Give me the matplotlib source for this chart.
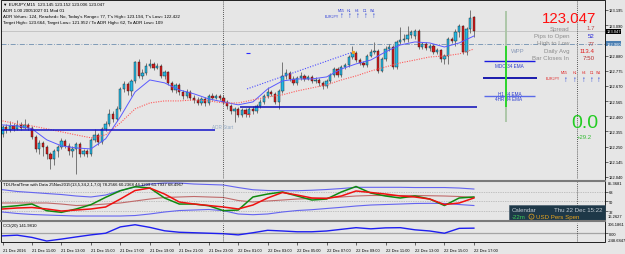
import matplotlib
matplotlib.use("Agg")
import matplotlib.pyplot as plt
import matplotlib.transforms as mtransforms
from matplotlib.lines import Line2D
from matplotlib.patches import Rectangle

plt.rcParams['font.family'] = ['Liberation Sans', 'DejaVu Sans']

# ---------------------------------------
# Data: EURJPY M15 candles (21 Dec 09:00 .. 22 Dec 17:00)
# ---------------------------------------

opens = [122.338, 122.387, 122.366, 122.393, 122.373, 122.400, 122.380, 122.400, 122.380, 122.317,
         122.234, 122.276, 122.248, 122.200, 122.165, 122.221, 122.248, 122.290, 122.255, 122.221,
         122.234, 122.269, 122.200, 122.221, 122.200, 122.297, 122.331, 122.283, 122.373, 122.407,
         122.476, 122.442, 122.511, 122.649, 122.684, 122.635, 122.704, 122.836, 122.739, 122.760,
         122.808, 122.822, 122.794, 122.808, 122.739, 122.767, 122.691, 122.642, 122.677, 122.628,
         122.601, 122.628, 122.587, 122.573, 122.552, 122.580, 122.552, 122.601, 122.587, 122.601,
         122.587, 122.559, 122.532, 122.497, 122.511, 122.469, 122.504, 122.476, 122.511, 122.497,
         122.532, 122.559, 122.601, 122.628, 122.615, 122.559, 122.635, 122.739, 122.760, 122.718,
         122.691, 122.725, 122.739, 122.718, 122.732, 122.704, 122.711, 122.691, 122.670, 122.704,
         122.746, 122.787, 122.746, 122.801, 122.815, 122.870, 122.898, 122.849, 122.829, 122.815,
         122.877, 122.905, 122.912, 122.773, 122.856, 122.925, 122.939, 122.801, 122.974, 122.988,
         122.995, 123.022, 123.015, 123.050, 122.939, 122.960, 122.932, 122.946, 122.905, 122.919,
         122.856, 122.877, 122.995, 122.981, 123.043, 123.084, 122.905, 123.064, 123.145]
highs = [122.400, 122.407, 122.428, 122.414, 122.435, 122.421, 122.442, 122.414, 122.393, 122.331,
         122.297, 122.290, 122.262, 122.214, 122.234, 122.262, 122.311, 122.304, 122.276, 122.255,
         122.283, 122.283, 122.234, 122.234, 122.311, 122.373, 122.345, 122.387, 122.428, 122.511,
         122.497, 122.532, 122.663, 122.704, 122.697, 122.718, 122.843, 122.856, 122.787, 122.829,
         122.856, 122.836, 122.829, 122.822, 122.780, 122.773, 122.704, 122.691, 122.691, 122.642,
         122.649, 122.642, 122.608, 122.594, 122.594, 122.594, 122.615, 122.621, 122.615, 122.615,
         122.608, 122.573, 122.545, 122.525, 122.525, 122.518, 122.518, 122.525, 122.532, 122.545,
         122.580, 122.615, 122.663, 122.642, 122.628, 122.649, 122.836, 122.787, 122.773, 122.739,
         122.739, 122.767, 122.753, 122.746, 122.746, 122.732, 122.725, 122.704, 122.718, 122.760,
         122.801, 122.801, 122.815, 122.829, 122.884, 122.946, 122.912, 122.863, 122.843, 122.891,
         122.925, 122.974, 122.925, 122.870, 122.946, 122.960, 122.953, 122.988, 123.078, 123.029,
         123.084, 123.057, 123.064, 123.064, 122.974, 122.974, 122.960, 122.960, 122.932, 122.925,
         122.891, 123.008, 123.008, 123.064, 123.098, 123.091, 123.078, 123.194, 123.152]
lows = [122.317, 122.345, 122.352, 122.359, 122.366, 122.366, 122.373, 122.366, 122.304, 122.214,
        122.200, 122.186, 122.165, 122.096, 122.124, 122.179, 122.234, 122.241, 122.193, 122.179,
        122.062, 122.179, 122.186, 122.179, 122.186, 122.283, 122.262, 122.269, 122.359, 122.393,
        122.421, 122.428, 122.497, 122.628, 122.608, 122.601, 122.691, 122.725, 122.718, 122.746,
        122.794, 122.780, 122.787, 122.725, 122.718, 122.677, 122.628, 122.621, 122.608, 122.580,
        122.587, 122.573, 122.552, 122.539, 122.539, 122.532, 122.539, 122.573, 122.580, 122.573,
        122.545, 122.511, 122.476, 122.422, 122.456, 122.456, 122.456, 122.456, 122.476, 122.483,
        122.518, 122.545, 122.587, 122.601, 122.545, 122.511, 122.621, 122.718, 122.704, 122.677,
        122.677, 122.711, 122.704, 122.711, 122.691, 122.691, 122.670, 122.649, 122.656, 122.691,
        122.732, 122.732, 122.732, 122.787, 122.801, 122.856, 122.836, 122.815, 122.801, 122.801,
        122.870, 122.891, 122.760, 122.767, 122.843, 122.912, 122.787, 122.787, 122.960, 122.974,
        122.974, 123.002, 122.995, 122.925, 122.925, 122.919, 122.912, 122.891, 122.891, 122.836,
        122.822, 122.822, 122.967, 122.946, 123.008, 122.891, 122.884, 123.036, 123.006]
closes = [122.387, 122.366, 122.393, 122.373, 122.400, 122.380, 122.400, 122.380, 122.317, 122.234,
          122.276, 122.248, 122.200, 122.165, 122.221, 122.248, 122.290, 122.255, 122.221, 122.234,
          122.269, 122.200, 122.221, 122.200, 122.297, 122.331, 122.283, 122.373, 122.407, 122.476,
          122.442, 122.511, 122.649, 122.684, 122.635, 122.704, 122.836, 122.739, 122.760, 122.808,
          122.822, 122.794, 122.808, 122.739, 122.767, 122.691, 122.642, 122.677, 122.628, 122.601,
          122.628, 122.587, 122.573, 122.552, 122.580, 122.552, 122.601, 122.587, 122.601, 122.587,
          122.559, 122.532, 122.497, 122.511, 122.469, 122.504, 122.476, 122.511, 122.497, 122.532,
          122.559, 122.601, 122.628, 122.615, 122.559, 122.635, 122.739, 122.760, 122.718, 122.691,
          122.725, 122.739, 122.718, 122.732, 122.704, 122.711, 122.691, 122.670, 122.704, 122.746,
          122.787, 122.746, 122.801, 122.815, 122.870, 122.898, 122.849, 122.829, 122.815, 122.877,
          122.905, 122.912, 122.773, 122.856, 122.925, 122.939, 122.801, 122.974, 122.988, 122.995,
          123.022, 123.043, 123.050, 122.939, 122.960, 122.932, 122.946, 122.905, 122.919, 122.856,
          122.877, 122.995, 122.981, 123.043, 123.084, 122.905, 123.064, 123.140, 123.047]

# indicator lines, read once per hour (every 4th bar)
ind_bars = list(range(0, 129, 4))
ma_fast = [122.400, 122.393, 122.373, 122.297, 122.255, 122.241, 122.234, 122.304, 122.456, 122.628,
           122.711, 122.691, 122.642, 122.615, 122.580, 122.559, 122.539, 122.559, 122.649, 122.704,
           122.718, 122.718, 122.732, 122.787, 122.822, 122.849, 122.905, 122.953, 122.974, 122.967,
           122.939, 122.967, 123.015]
ma_slow = [122.428, 122.407, 122.393, 122.373, 122.352, 122.331, 122.311, 122.331, 122.414, 122.511,
           122.552, 122.566, 122.566, 122.573, 122.566, 122.552, 122.552, 122.573, 122.594, 122.608,
           122.635, 122.656, 122.677, 122.711, 122.739, 122.773, 122.801, 122.829, 122.849, 122.870,
           122.877, 122.891, 122.925]
tdi_rsi = [39.9, 42.2, 45.3, 33.2, 30.2, 36.3, 44.1, 57.5, 69.5, 76.8, 74.4, 56.3, 45.3, 45.3, 42.2,
           33.2, 34.4, 58.1, 63.5, 67.2, 59.9, 52.6, 54.4, 67.2, 77.2, 65.3, 59.9, 56.3, 59.9, 54.4,
           42.6, 56.3, 58.1]
tdi_signal = [36.3, 38.1, 39.0, 36.3, 32.6, 34.4, 36.3, 39.9, 54.4, 69.9, 74.4, 63.5, 49.0, 45.3, 42.6,
              39.9, 36.3, 43.5, 56.3, 66.3, 61.7, 56.3, 55.4, 59.9, 69.0, 66.3, 63.5, 59.9, 58.1, 54.4,
              44.4, 47.2, 56.3]
tdi_upper = [71.4, 68.1, 66.3, 64.4, 62.6, 59.9, 58.1, 61.7, 69.9, 76.3, 81.7, 83.5, 83.5, 81.7, 80.8,
             79.9, 75.3, 71.3, 69.9, 69.5, 69.5, 70.4, 71.7, 73.5, 75.7, 75.7, 75.7, 75.7, 75.3, 75.3,
             75.3, 74.4, 72.6]
tdi_lower = [30.8, 28.1, 26.3, 25.3, 24.4, 23.5, 23.5, 23.5, 23.5, 24.4, 27.2, 30.8, 33.5, 34.4, 35.4,
             33.2, 27.2, 25.9, 27.2, 30.8, 33.5, 35.0, 37.2, 39.3, 41.7, 43.5, 44.4, 45.3, 46.3, 46.6,
             46.3, 44.4, 42.6]
tdi_base = [47.2, 47.2, 47.2, 47.2, 45.3, 42.6, 43.5, 45.3, 47.2, 50.8, 54.4, 57.2, 58.1, 59.0, 58.1,
            57.2, 51.7, 49.0, 50.8, 52.6, 54.4, 55.4, 56.3, 58.1, 59.9, 60.8, 60.8, 60.8, 60.8, 60.4,
            59.9, 59.0, 57.5]
cci_vals = [-73.9, -54.5, -118.0, -221.0, -165.5, -104.4, -46.2, 1.0, 181.3, 242.3, 167.4, 70.4, 28.7,
            14.8, 1.0, -12.9, -46.2, 14.8, 84.2, 64.8, 42.6, 42.6, 64.8, 111.9, 159.1, 125.8, 153.5,
            159.1, 98.0, 64.8, 1.0, 139.7, 145.2]

time_labels = ["21 Dec 2016", "21 Dec 11:00", "21 Dec 13:00", "21 Dec 15:00", "21 Dec 17:00",
               "21 Dec 19:00", "21 Dec 21:00", "21 Dec 23:00", "22 Dec 01:00", "22 Dec 03:00",
               "22 Dec 05:00", "22 Dec 07:00", "22 Dec 09:00", "22 Dec 11:00", "22 Dec 13:00",
               "22 Dec 15:00", "22 Dec 17:00"]
price_ticks = [123.195, 123.090, 122.880, 122.775, 122.670, 122.565, 122.460, 122.355, 122.250,
               122.145, 122.040]

# ---------------------------------------
# Figure / panels
# ---------------------------------------

BG = '#e6e6e6'
W, H = 625, 255
SMALL = 2.9
fig = plt.figure(figsize=(W / 100, H / 100), dpi=100, facecolor=BG)


def ftxt(x, y, s, **kw):
    kw.setdefault('va', 'center')
    return fig.text(x / W, 1 - y / H, s, **kw)


def panel(top, bottom):
    a = fig.add_axes([1 / W, 1 - bottom / H, 604 / W, (bottom - top) / H], facecolor=BG)
    for s in a.spines.values():
        s.set_visible(False)
    a.set_xlim(-0.41, 163.6)
    a.yaxis.tick_right()
    a.tick_params(axis='y', direction='out', length=2, width=0.4, pad=1.0, labelsize=SMALL)
    a.tick_params(axis='x', length=0, labelbottom=False)
    return a


ax = panel(1, 180)
tdi = panel(183, 221)
cci = panel(223.5, 243)

# ---------------------------------------
# Main chart
# ---------------------------------------

ax.set_ylim(122.026, 123.264)
ax.set_yticks(price_ticks)
ax.set_yticklabels([f"{p:.3f}" for p in price_ticks])

bars = list(range(len(closes)))
ax.vlines(bars, lows, highs, color='#4a4a4a', lw=0.5, zorder=2)
heights = [(c - o) if abs(c - o) > 0.0005 else 0.001 for o, c in zip(opens, closes)]
cols = ['#22b8e4' if c >= o else '#d81818' for o, c in zip(opens, closes)]
ax.bar(bars, heights, bottom=opens, width=0.62, color=cols, edgecolor='#1a1a1a', lw=0.3, zorder=3)

ax.plot(ind_bars, ma_fast, color='#5a5aff', lw=0.7, zorder=4)
ax.plot(ind_bars, ma_slow, color='#ff5a5a', lw=0.8, ls=(0, (1, 1.2)), zorder=4)
ax.plot([66.4, 95.2], [122.649, 122.905], color='#4a4aff', lw=0.8, ls=(0, (1, 1.4)), zorder=4)
ax.plot([95.2], [122.905], 's', ms=1.3, color='#f0a020', zorder=5)
ax.hlines([122.898], 66.1, 67.3, color='#2a2aff', lw=0.8)
ax.hlines([122.477], 66.1, 67.3, color='#ff4a4a', lw=0.8)

ax.axhline(123.047, color='#b8b8b8', lw=0.5, zorder=1)
ax.axhline(122.960, color='#6f8fb0', lw=0.6, ls=(0, (6, 2, 1, 2)), zorder=1)

ax.hlines(122.366, -0.4, 57.7, color='#1010c8', lw=1.1, zorder=5)
ax.text(56.9, 122.387, "ADR Start", fontsize=3.3, color='#90a8c4', va='center', ha='left')
ax.hlines(122.525, 64.5, 128.8, color='#0a0ab8', lw=1.1, zorder=5)

ax.hlines(122.843, 130.7, 144.6, color='#1a1ae0', lw=1.0)
ax.hlines(122.725, 130.5, 145.2, color='#0a0aa8', lw=1.3)
ax.hlines(122.603, 130.7, 144.6, color='#5a6ae8', lw=1.0)
ax.text(137.7, 122.811, "MDO 34 EMA", fontsize=3.3, color='#2a3ad0', ha='center', va='center')
ax.text(137.7, 122.614, "H1 34 EMA", fontsize=3.3, color='#2a3ad0', ha='center', va='center')
ax.text(137.5, 122.586, "4HR 34 EMA", fontsize=3.3, color='#2a3ad0', ha='center', va='center')

ax.vlines(136.6, 122.421, 123.188, color='#a9c4a4', lw=1.3, zorder=4)
ax.vlines(136.6, 122.525, 122.946, color='#22d622', lw=1.3, zorder=5)
ax.text(138.2, 122.915, "WPP", fontsize=4.3, color='#8a9ab8', va='center')

blend = mtransforms.blended_transform_factory(ax.transAxes, ax.transData)
ax.annotate("123.047", xy=(1, 123.047), xycoords=blend, xytext=(1.0, 0), textcoords='offset points',
            ha='left', va='center', fontsize=SMALL, color='white',
            bbox=dict(boxstyle='square,pad=0.15', fc='black', ec='none'))
ax.annotate("122.960", xy=(1, 122.962), xycoords=blend, xytext=(1.0, 0), textcoords='offset points',
            ha='left', va='center', fontsize=SMALL, color='white',
            bbox=dict(boxstyle='square,pad=0.15', fc='#4b7fb2', ec='none'))

# ---------------------------------------
# TDI panel
# ---------------------------------------

tdi.set_ylim(16.2627, 85.3681)
tdi.set_yticks([68, 50, 32])
for lv in (68, 50, 32):
    tdi.axhline(lv, color='#9a9a9a', lw=0.5, ls=(0, (1, 1.5)))
tdi.plot(ind_bars, tdi_upper, color='#6464f0', lw=0.8)
tdi.plot(ind_bars, tdi_lower, color='#6464f0', lw=0.8)
tdi.plot(ind_bars, tdi_base, color='#c06a6a', lw=0.8)
tdi.plot(ind_bars, tdi_rsi, color='#108a10', lw=1.1)
tdi.plot(ind_bars, tdi_signal, color='#f01010', lw=1.1)

# ---------------------------------------
# CCI panel
# ---------------------------------------

cci.set_ylim(-248.6847, 306.1861)
cci.set_yticks([0])
cci.set_yticklabels(["0.00"])
cci.axhline(0, color='#a4a4a4', lw=0.9)
cci.plot(ind_bars, cci_vals, color='#1e1ef0', lw=1.0)

cci.set_xticks(list(range(0, 129, 8)))
cci.set_xticklabels(time_labels, ha='left')
cci.tick_params(axis='x', length=2.5, width=0.4, direction='out', labelbottom=True, labelsize=SMALL, pad=1.5)

for a in (ax, tdi, cci):
    a.axvline(59.9, color='#2a2a2a', lw=0.6, ls=(0, (1, 1.5)))
    a.axvline(156.0, color='#2a2a2a', lw=0.6, ls=(0, (1, 1.5)))

# ---------------------------------------
# Frame, separators, texts
# ---------------------------------------

fig.add_artist(Rectangle((1 / W, 1 - 243 / H), 604 / W, 242 / H, fill=False, ec='black', lw=0.6,
                         transform=fig.transFigure))
for y in (181.5, 222.3):
    fig.add_artist(Line2D([1 / W, 605 / W], [1 - y / H] * 2, color='#7a7a7a', lw=1.5))

ftxt(607.5, 184.5, "85.3681", fontsize=SMALL)
ftxt(607.5, 217, "16.2627", fontsize=SMALL)
ftxt(607.5, 225, "306.1861", fontsize=SMALL)
ftxt(607.5, 241, "-248.6847", fontsize=SMALL)

ftxt(3, 5, "\u25bc EURJPY,M15  123.145 123.152 123.006 123.047", fontsize=3.2)
ftxt(3, 11, "ADR 1.00 20051027 01 Mod 01", fontsize=3.2)
ftxt(3, 17, "ADR Values: 124, Reached= No, Today's Range= 77, T's High= 123.194, T's Low= 122.422",
     fontsize=3.2)
ftxt(3, 23, "Target High= 123.664, Target Low= 121.952 / To ADR High= 62, To ADR Low= 109", fontsize=3.2)

ftxt(3, 185.5, "TDI-RealTime with Data 25Nov2015(13,5,34,2,1,7,0) 78.2566 60.2368 44.1209 61.7937 68.4967",
     fontsize=3.1)
ftxt(3, 226, "CCI(20) 141.9810", fontsize=3.1)

# big quote block
ftxt(596, 19.5, "123.047", fontsize=10.8, color='#ff1010', ha='right')
rows = [("Spread", "1.7", '#b84848'), ("Pips to Open", "52", '#2424d8'), ("High to Low", "77", '#b84848'),
        ("Daily Avg", "113.4", '#e01c1c'), ("Bar Closes In", "7:50", '#b83030')]
for k, (lab, val, col) in enumerate(rows):
    yy = 29 + k * 7.5
    ftxt(569, yy, lab, fontsize=4.4, color='#8c8c8c', ha='right')
    ftxt(595, yy, val, fontsize=4.4, color=col, ha='right')

tf_names = ["M15", "H1", "H4", "D1", "W1"]
for nm, xr, xa in zip(tf_names, [564, 575, 584, 592, 598.5], [566, 575, 584, 592, 599]):
    ftxt(xr, 72.7, nm, fontsize=2.6, color='#e02020', ha='center')
    ftxt(xa, 80, "\u2191", fontsize=5.6, color='#1a3ad8', ha='center', fontweight='bold')
ftxt(553, 79.5, "EURJPY", fontsize=2.6, color='#e02020', ha='center')

for nm, xr in zip(tf_names, [341, 349, 357, 365, 373]):
    ftxt(xr, 11, nm, fontsize=2.6, color='#2a3ad8', ha='center')
    ftxt(xr + 1, 16.5, "\u2191", fontsize=5.6, color='#1a3ad8', ha='center', fontweight='bold')
ftxt(332, 16.5, "EURJPY", fontsize=2.6, color='#2a3ad8', ha='center')

ftxt(584.5, 123.5, "0.0", fontsize=14, color='#22cc22', ha='center')
ftxt(584, 137.5, "+29.2", fontsize=4.3, color='#33bb33', ha='center')

# calendar box
fig.add_artist(Rectangle((509 / W, 1 - 221 / H), 96 / W, 15 / H, fc='#1e3848', ec='#3c5464', lw=0.4,
                         transform=fig.transFigure))
ftxt(512, 210.2, "Calendar", fontsize=4.4, color='#c4ccd4')
ftxt(603, 210.2, "Thu 22 Dec 15:22", fontsize=4.4, color='#c4ccd4', ha='right')
ftxt(512, 217.6, "-22m", fontsize=4.4, color='#3ccc58')
ftxt(531.5, 217.6, "!", fontsize=3.2, color='#e8a41e', ha='center',
     bbox=dict(boxstyle='circle,pad=0.12', fc='none', ec='#e8a41e', lw=0.5))
ftxt(536, 217.6, "USD Pers Spen", fontsize=4.4, color='#e8a41e')

fig.savefig("out.png", dpi=100, facecolor=BG)
